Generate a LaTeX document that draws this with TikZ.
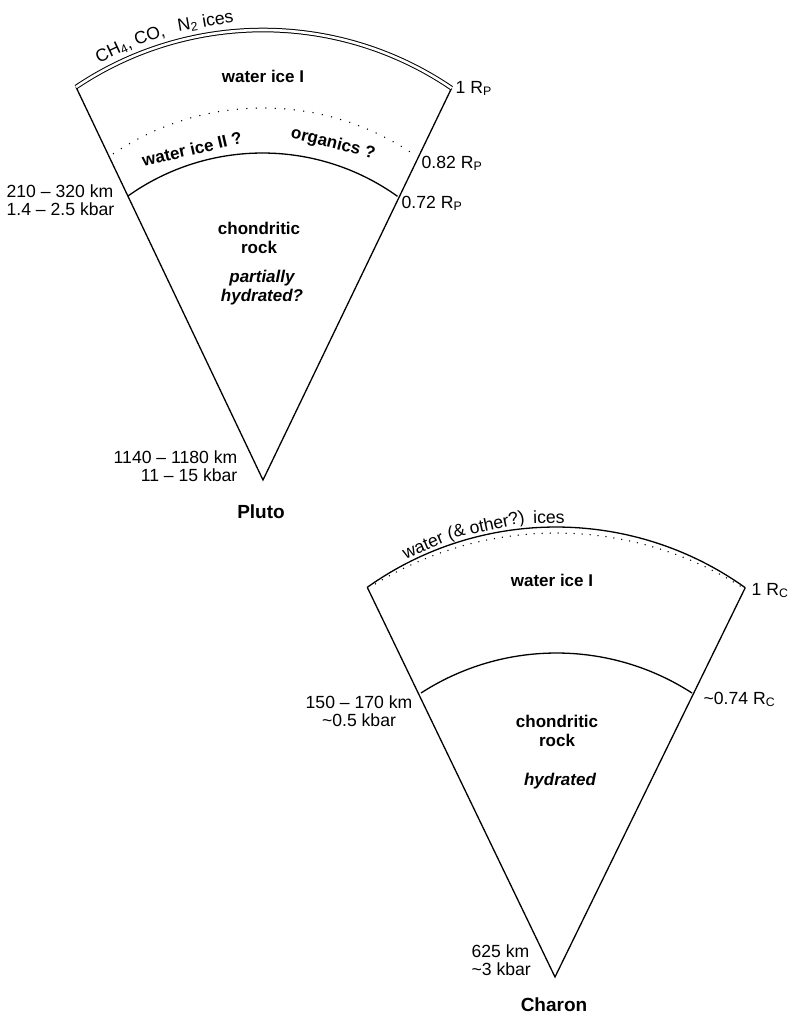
\documentclass[tikz,border=0pt]{standalone}
\usepackage{fontspec}
\setmainfont{Liberation Sans}
\usepackage{tikz}

\begin{document}
\begin{tikzpicture}[x=1pt, y=-1pt, line width=1.3pt,
	every node/.style={inner sep=0pt, font=\fontsize{17.6}{18}\selectfont},
	layer/.style={align=center, font=\fontsize{17}{19}\selectfont\bfseries},
	guess/.style={align=center, font=\fontsize{17}{19}\selectfont\bfseries\itshape},
	body/.style={font=\fontsize{19}{21}\selectfont\bfseries},
	radius label/.style={anchor=base west},
	crust/.style={double, double distance=2.6pt, line width=1pt},
	boundary/.style={line width=1.5pt, dash pattern=on 0pt off 9.5pt, line cap=round}]

\useasboundingbox (0,0) rectangle (792,1017);

% Pluto: arc centres, corners and tip
\coordinate (pc) at (263,365);
\coordinate (pm) at (263,376);
\coordinate (pk) at (262.5,385);
\coordinate (pL) at ([shift={(236.07:335)}]pc);
\coordinate (pR) at ([shift={(304.26:335)}]pc);
\coordinate (pTip) at (263,480);

% Pluto wedge
\draw (pL) -- (pTip) -- (pR);
\draw[crust] (pL) arc[start angle=236.07, end angle=304.26, radius=335];
\draw[boundary] ([shift={(236.07:268)}]pm) arc[start angle=236.07, end angle=304.17, radius=268];
\draw ([shift={(234.56:232)}]pk) arc[start angle=234.56, end angle=305.58, radius=232];

% surface ices, bent along the rim
\node[anchor=base, rotate=25] (pIce1) at ([shift={(244.6:343)}]pc) {CH\textsubscript{4},};
\node[anchor=base, rotate=19] (pIce2) at ([shift={(251:343)}]pc) {CO,};
\node[anchor=base, rotate=9.7] (pIce3) at ([shift={(260.5:343)}]pc) {N\textsubscript{2} ices};

% Pluto layers
\node[layer] (pIceI) at (263,76) {water ice I};
\node[layer, rotate=13] (pIceII) at (192,149) {water ice II ?};
\node[layer, rotate=-14] (pOrg) at (333,144) {organics ?};
\node[layer] (pRock) at (259,238) {chondritic\\rock};
\node[guess] (pHyd) at (262,288) {partially\\hydrated?};

% Pluto radii and depths
\node[radius label] (pR1) at (455,93) {1 R\textsubscript{P}};
\node[radius label] (pR082) at (421,168) {0.82 R\textsubscript{P}};
\node[radius label] (pR072) at (401,208) {0.72 R\textsubscript{P}};
\node[align=left, anchor=west] (pDepth) at (6,200) {210 -- 320 km\\1.4 -- 2.5 kbar};
\node[align=right, anchor=east] (pCentre) at (238,466) {1140 -- 1180 km\\11 -- 15 kbar};
\node[body] (pluto) at (261,512) {Pluto};

% Charon: arc centres, corners and tip
\coordinate (cc) at (556,852.5);
\coordinate (cm) at (556,879);
\coordinate (ck) at (556.5,902.5);
\coordinate (cL) at ([shift={(234.56:325.5)}]cc);
\coordinate (cR) at ([shift={(305.55:325.5)}]cc);
\coordinate (cTip) at (555,977);

% Charon wedge
\draw (cL) -- (cTip) -- (cR);
\draw (cL) arc[start angle=234.56, end angle=305.55, radius=325.5];
\draw[boundary, dash pattern=on 0pt off 8pt] ([shift={(238.56:346)}]cm) arc[start angle=238.56, end angle=302.22, radius=346];
\draw ([shift={(237.11:249.5)}]ck) arc[start angle=237.11, end angle=302.89, radius=249.5];

% surface ices
\node[anchor=base, rotate=23.1] (cIce1) at ([shift={(246.6:329)}]cc) {water};
\node[anchor=base, rotate=12.1] (cIce2) at ([shift={(257.9:329)}]cc) {(\& other?)};
\node[anchor=base, rotate=1.4] (cIce3) at ([shift={(268.8:329)}]cc) {ices};

% Charon layers
\node[layer] (cIceI) at (552,580) {water ice I};
\node[layer] (cRock) at (557,731) {chondritic\\rock};
\node[guess] (cHyd) at (560,781) {hydrated};

% Charon radii and depths
\node[radius label] (cR1) at (751,595) {1 R\textsubscript{C}};
\node[radius label] (cR074) at (703,704) {\textasciitilde0.74 R\textsubscript{C}};
\node[align=center] (cDepth) at (359,711) {150 -- 170 km\\\textasciitilde0.5 kbar};
\node[align=left, anchor=west] (cCentre) at (471,960) {625 km\\\textasciitilde3 kbar};
\node[body] (charon) at (554,1005) {Charon};
\end{tikzpicture}
\end{document}
